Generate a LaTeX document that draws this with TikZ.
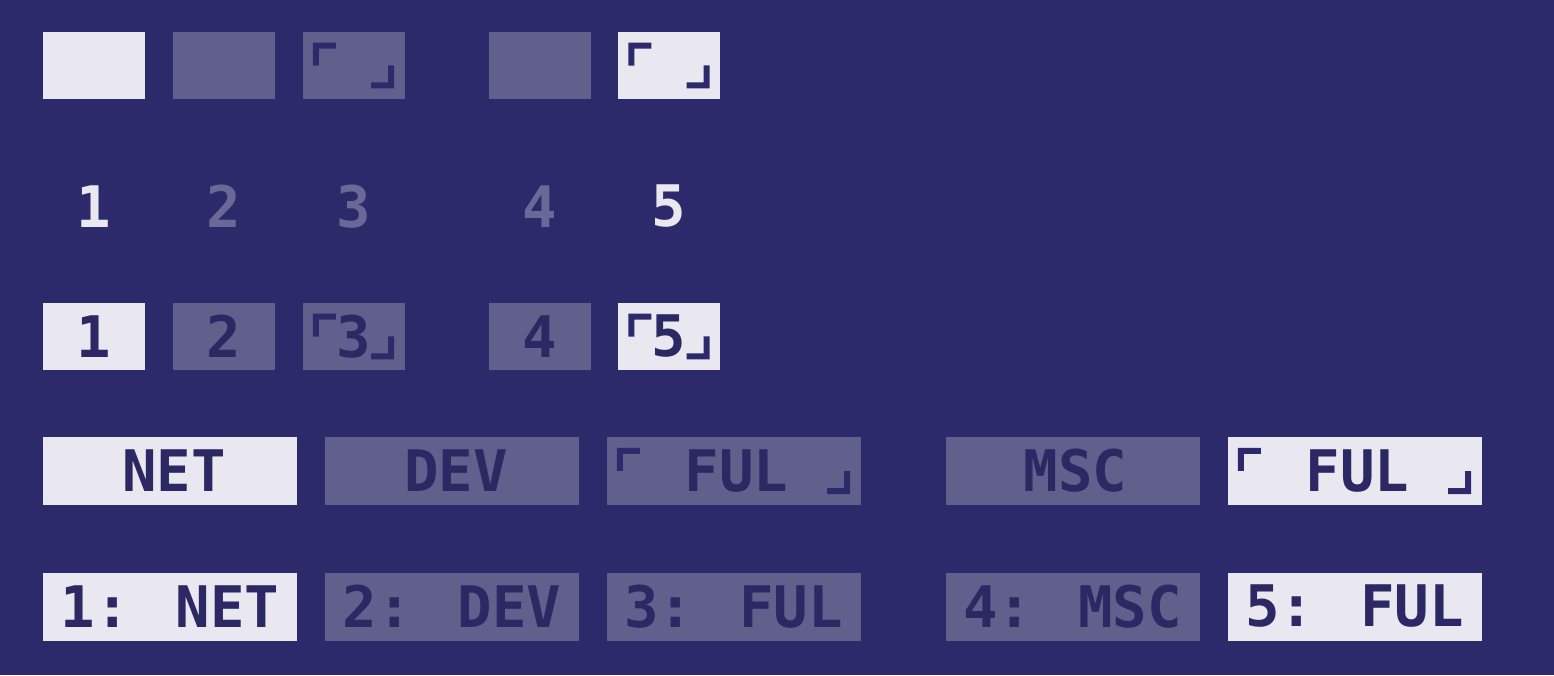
\documentclass[tikz,border=0pt]{standalone}
\usepackage{fontspec}
\setmainfont{DejaVu Sans Mono}
\definecolor{bgc}{HTML}{2D2A6B}
\definecolor{lightc}{HTML}{E9E7EF}
\definecolor{dimc}{HTML}{615F8B}
\definecolor{dimtxt}{HTML}{6A6896}
\definecolor{darkc}{HTML}{2B2863}
\newcommand\mybrk[1]{%
  \fill[bgc] ([xshift=10.5pt,yshift=-11pt]#1.north west) -- ++(23pt,0pt) -- ++(0pt,-6pt) -- ++(-17pt,0pt) -- ++(0pt,-17pt) -- ++(-6pt,0pt) -- cycle;
  \fill[bgc] ([xshift=-10.5pt,yshift=11pt]#1.south east) -- ++(-23pt,0pt) -- ++(0pt,6pt) -- ++(17pt,0pt) -- ++(0pt,17pt) -- ++(6pt,0pt) -- cycle;}
\begin{document}
\begin{tikzpicture}[x=1pt,y=-1pt,
  bigfont/.style={font=\fontsize{57.3pt}{60pt}\selectfont\bfseries},
  sbox/.style={rectangle,inner sep=0pt,minimum width=102pt,minimum height=67.5pt,text=darkc,bigfont},
  wbox/.style={rectangle,inner sep=0pt,minimum width=254pt,minimum height=68pt,text=darkc,bigfont},
  lit/.style={fill=lightc},
  unlit/.style={fill=dimc},
  num/.style={inner sep=0pt,bigfont}]
\fill[bgc] (0,0) rectangle (1554,675);
\useasboundingbox (0,0) rectangle (1554,675);
% row 1
\node[sbox,lit]   (a1) at (94,65.5) {};
\node[sbox,unlit] (a2) at (223.5,65.5) {};
\node[sbox,unlit] (a3) at (353.5,65.5) {};
\node[sbox,unlit] (a4) at (539.5,65.5) {};
\node[sbox,lit]   (a5) at (669,65.5) {};
\mybrk{a3}
\mybrk{a5}
% row 2
\node[num,text=lightc] (b1) at (94,206.5) {1};
\node[num,text=dimtxt] (b2) at (223.5,206.5) {2};
\node[num,text=dimtxt] (b3) at (353.5,206.5) {3};
\node[num,text=dimtxt] (b4) at (539.5,206.5) {4};
\node[num,text=lightc] (b5) at (669,206.5) {5};
% row 3
\node[sbox,lit]   (c1) at (94,336.5) {1};
\node[sbox,unlit] (c2) at (223.5,336.5) {2};
\node[sbox,unlit] (c3) at (353.5,336.5) {3};
\node[sbox,unlit] (c4) at (539.5,336.5) {4};
\node[sbox,lit]   (c5) at (669,336.5) {5};
\mybrk{c3}
\mybrk{c5}
% row 4
\node[wbox,lit]   (d1) at (170,471) {\hspace*{8pt}NET};
\node[wbox,unlit] (d2) at (452,471) {\hspace*{8pt}DEV};
\node[wbox,unlit] (d3) at (733.5,471) {\hspace*{6pt}FUL};
\node[wbox,unlit] (d4) at (1072.5,471) {\hspace*{6pt}MSC};
\node[wbox,lit]   (d5) at (1354.5,471) {\hspace*{6pt}FUL};
\mybrk{d3}
\mybrk{d5}
% row 5
\node[wbox,lit]   (e1) at (170,606.5) {1: NET};
\node[wbox,unlit] (e2) at (452,606.5) {2: DEV};
\node[wbox,unlit] (e3) at (733.5,606.5) {3: FUL};
\node[wbox,unlit] (e4) at (1072.5,606.5) {4: MSC};
\node[wbox,lit]   (e5) at (1354.5,606.5) {5: FUL};
\end{tikzpicture}
\end{document}
